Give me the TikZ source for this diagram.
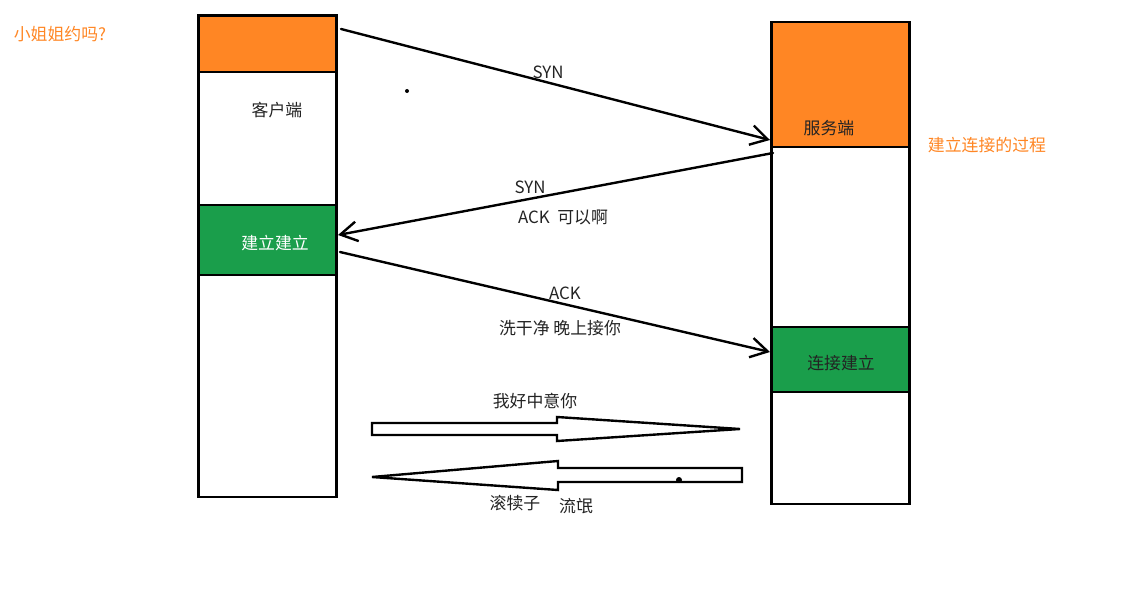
\documentclass[tikz,border=0pt]{standalone}
\usepackage{fontspec}
\newfontfamily\cjk{Noto Sans CJK SC}
\usetikzlibrary{arrows.meta,fit}
\definecolor{orng}{RGB}{255,134,36}
\definecolor{grn}{RGB}{26,158,75}
\definecolor{ink}{RGB}{35,35,35}
\tikzset{
  seg/.style={draw=black, line width=2pt, inner sep=0pt},
  msg/.style={line width=1.7pt, line cap=round,
    -{Straight Barb[length=12pt,width=14pt,line width=1.7pt]}},
  lbl/.style={font=\cjk\fontsize{12}{14}\selectfont, text=ink, inner sep=1pt},
  note/.style={lbl, text=orng},
  blk/.style={draw=black, line width=1.7pt, fill=white},
}

\begin{document}
\begin{tikzpicture}[x=0.025cm, y=-0.025cm]
  \useasboundingbox (0,0) rectangle (1123,591);
  % client side
  \node[seg, fit={(198.5,15.5) (336.5,497)}] (client) {};
  \node[seg, fill=orng, fit={(198.5,15.5) (336.5,72)}] (cltop) {};
  \node[seg, fill=grn, fit={(198.5,205) (336.5,275)}] (clok) {};
  % server side
  \node[seg, fit={(771.5,22) (909.5,504)}] (server) {};
  \node[seg, fill=orng, fit={(771.5,22) (909.5,147)}] (svtop) {};
  \node[seg, fill=grn, fit={(771.5,327) (909.5,392)}] (svok) {};
  \node[note] (title) at (60,34) {小姐姐约吗?};
  \node[note] (process) at (987,145) {建立连接的过程};
  \node[lbl] (cltext) at (277,110) {客户端};
  \node[lbl, text=white] (cloktext) at (275,243) {建立建立};
  \node[lbl] (svtext) at (829,128) {服务端};
  \node[lbl] (svoktext) at (841,363) {连接建立};
  % three way handshake
  \coordinate (synA) at (341,29);
  \coordinate (synB) at (770,140);
  \coordinate (synackA) at (773,153);
  \coordinate (synackB) at (338,235);
  \coordinate (ackA) at (340,252);
  \coordinate (ackB) at (770,352);
  \draw[msg] (synA) -- (synB);
  \draw[msg] (synackA) -- (synackB);
  \draw[msg] (ackA) -- (ackB);
  \node[lbl] (syn1) at (548,72) {SYN};
  \node[lbl] (syn2) at (530,187) {SYN};
  \node[lbl] (ack2) at (563,217) {ACK\ \ 可以啊};
  \node[lbl] (ack3) at (565,293) {ACK};
  \node[lbl] (ack3msg) at (560,328) {洗干净 晚上接你};
  % data
  \draw[blk] (372,423) -- (557,423) -- (557,417) -- (740,429) -- (557,441)
    -- (557,435) -- (372,435) -- cycle;
  \draw[blk] (742,468) -- (558,468) -- (558,461) -- (372,477) -- (558,490)
    -- (558,482) -- (742,482) -- cycle;
  \node[lbl] (love) at (535,401) {我好中意你};
  \node[lbl] (reply1) at (515,503) {滚犊子};
  \node[lbl] (reply2) at (576,506) {流氓};
  \fill (407,91) circle (2);
  \fill (679,480) circle (3);
\end{tikzpicture}
\end{document}
